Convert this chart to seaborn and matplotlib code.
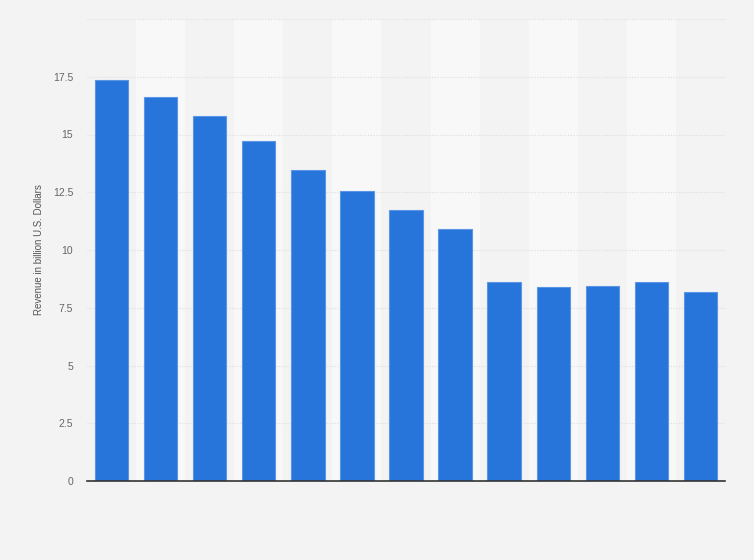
import matplotlib
matplotlib.use("Agg")
import matplotlib.pyplot as plt
import seaborn as sns
import pandas as pd

# values (no x labels shown in the reference)
categories = ["1", "2", "3", "4", "5", "6", "7", "8", "9", "10", "11", "12", "13"]
revenue = [17.37, 16.63, 15.81, 14.72, 13.46, 12.55, 11.72, 10.92, 8.62, 8.40, 8.44, 8.62, 8.18]
y_ticks = [0, 2.5, 5, 7.5, 10, 12.5, 15, 17.5, 20]
y_tick_labels = ["0", "2.5", "5", "7.5", "10", "12.5", "15", "17.5", ""]

df = pd.DataFrame({"category": categories, "revenue": revenue})

sns.set_style("white")
plt.rcParams["font.family"] = ["Liberation Sans", "DejaVu Sans"]

bg = "#f3f3f3"
fig = plt.figure(figsize=(7.54, 5.6), dpi=100, facecolor=bg)
ax = fig.add_axes([87 / 754, 79 / 560, 638 / 754, 462 / 560])
ax.set_facecolor(bg)

# alternating lighter column bands
for i in range(len(categories)):
    if i % 2 == 1:
        ax.axvspan(i - 0.5, i + 0.5, color="#f8f8f8", zorder=0, lw=0)

sns.barplot(data=df, x="category", y="revenue", color="#2775db", saturation=1,
            width=0.68, edgecolor="#5a95e6", linewidth=0.8, ax=ax, zorder=3)

ax.set_xlim(-0.5, len(categories) - 0.5)
ax.set_ylim(0, 20)
ax.set_yticks(y_ticks)
ax.set_yticklabels(y_tick_labels)
ax.grid(axis="y", color="#dddddd", linestyle=(0, (1, 1.5)), linewidth=0.8, zorder=1)
for g in ax.get_ygridlines():
    g.set_zorder(1)

ax.set_xticks([])
ax.set_xlabel("")
ax.set_ylabel("Revenue in billion U.S. Dollars", fontsize=7, color="#555555", labelpad=6)
ax.tick_params(axis="y", length=0, labelsize=7.5, labelcolor="#666666", pad=10)

for s in ["top", "right", "left"]:
    ax.spines[s].set_visible(False)
ax.spines["bottom"].set_color("#333333")
ax.spines["bottom"].set_linewidth(1.2)
ax.spines["bottom"].set_zorder(5)

fig.savefig("out.png", dpi=100, facecolor=bg)
